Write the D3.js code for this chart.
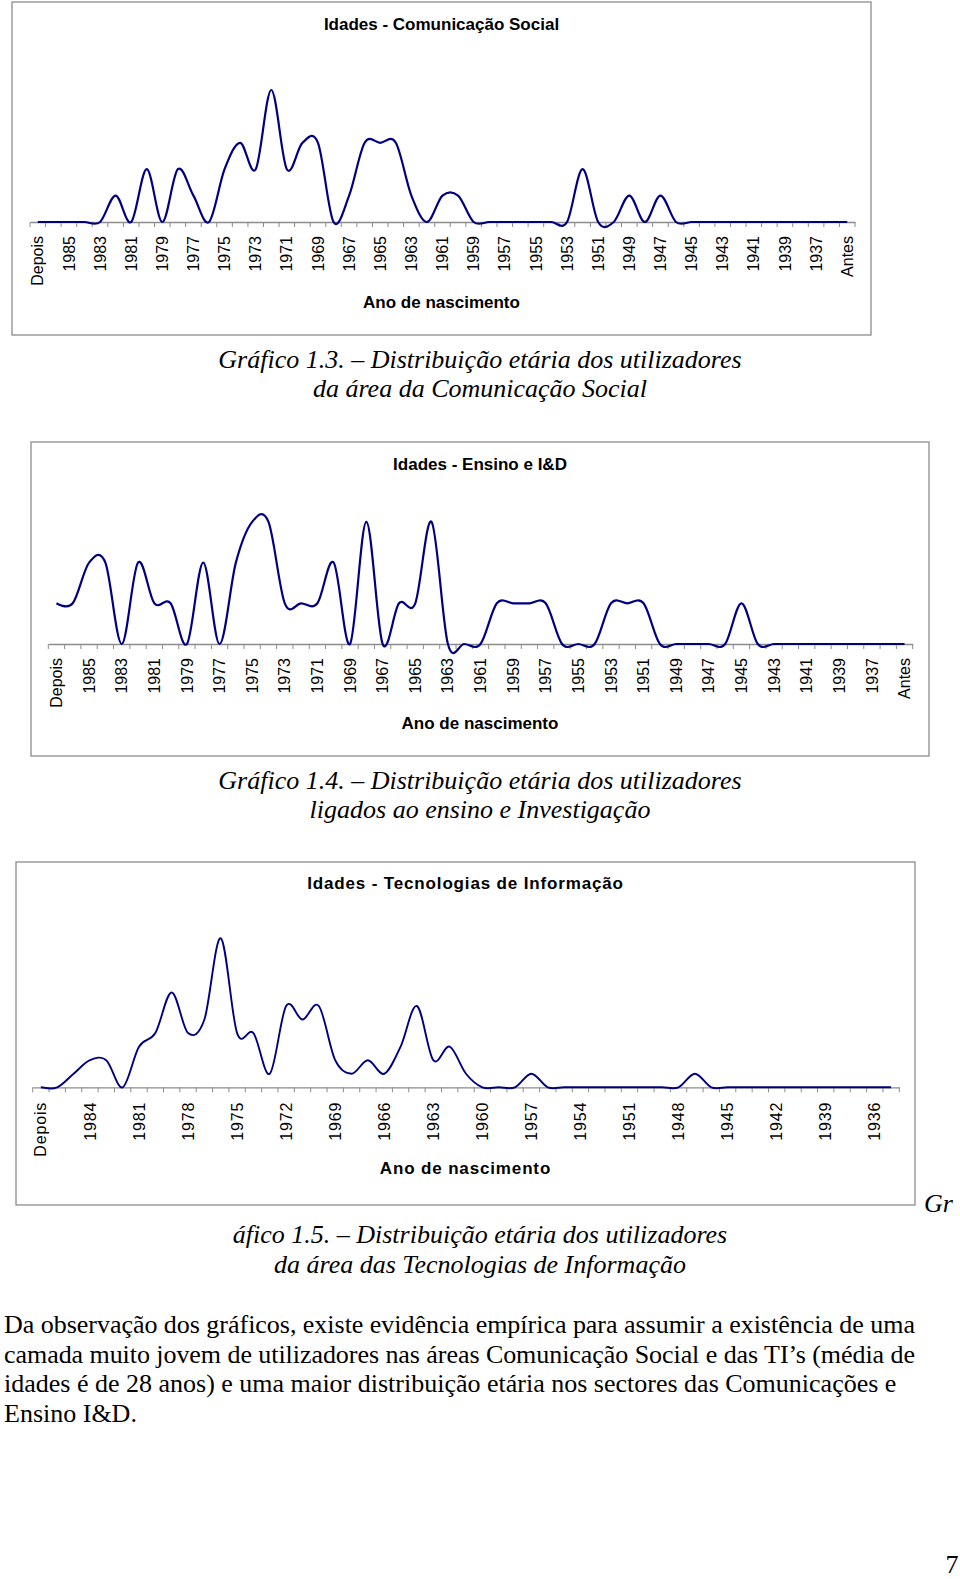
<!DOCTYPE html>
<html>
<head>
<meta charset="utf-8">
<script src="https://cdn.jsdelivr.net/npm/d3@7"></script>
<style>
  body { margin: 0; background: #fff; }
  svg { display: block; }
</style>
</head>
<body>
<div id="page"></div>
<script>
const WIDTH = 960;
const HEIGHT = 1579;

// categorias do eixo (ano de nascimento)
const CATEGORIES = ["Depois",
  "1986", "1985", "1984", "1983", "1982", "1981", "1980", "1979", "1978", "1977",
  "1976", "1975", "1974", "1973", "1972", "1971", "1970", "1969", "1968", "1967",
  "1966", "1965", "1964", "1963", "1962", "1961", "1960", "1959", "1958", "1957",
  "1956", "1955", "1954", "1953", "1952", "1951", "1950", "1949", "1948", "1947",
  "1946", "1945", "1944", "1943", "1942", "1941", "1940", "1939", "1938", "1937",
  "1936", "Antes"];

// rotulos visiveis
const LABELS_2 = ["Depois", "1985", "1983", "1981", "1979", "1977", "1975", "1973", "1971",
  "1969", "1967", "1965", "1963", "1961", "1959", "1957", "1955", "1953", "1951", "1949",
  "1947", "1945", "1943", "1941", "1939", "1937", "Antes"];
const LABELS_3 = ["Depois", "1984", "1981", "1978", "1975", "1972", "1969", "1966", "1963",
  "1960", "1957", "1954", "1951", "1948", "1945", "1942", "1939", "1936"];

// numero de utilizadores por ano
const COMUNICACAO = [0,
  0, 0, 0, 0, 1, 0, 2, 0, 2, 1,
  0, 2, 3, 2, 5, 2, 3, 3, 0, 1,
  3, 3, 3, 1, 0, 1, 1, 0, 0, 0,
  0, 0, 0, 0, 2, 0, 0, 1, 0, 1,
  0, 0, 0, 0, 0, 0, 0, 0, 0, 0,
  0, 0];
const ENSINO = [1,
  1, 2, 2, 0, 2, 1, 1, 0, 2, 0,
  2, 3, 3, 1, 1, 1, 2, 0, 3, 0,
  1, 1, 3, 0, 0, 0, 1, 1, 1, 1,
  0, 0, 0, 1, 1, 1, 0, 0, 0, 0,
  0, 1, 0, 0, 0, 0, 0, 0, 0, 0,
  0, 0];
const TECNOLOGIAS = [0,
  0, 1, 2, 2, 0, 3, 4, 7, 4, 5,
  11, 4, 4, 1, 6, 5, 6, 2, 1, 2,
  1, 3, 6, 2, 3, 1, 0, 0, 0, 1,
  0, 0, 0, 0, 0, 0, 0, 0, 0, 1,
  0, 0, 0, 0, 0, 0, 0, 0, 0, 0,
  0, 0];

const SANS = "'Liberation Sans', Arial, sans-serif";
const SERIF = "'Liberation Serif', 'Times New Roman', serif";

const SVG = d3.select("#page").append("svg")
  .attr("width", WIDTH)
  .attr("height", HEIGHT);

function draw_chart(cfg) {
  const g = SVG.append("g");

  g.append("rect")
    .attr("x", cfg.frame[0]).attr("y", cfg.frame[1])
    .attr("width", cfg.frame[2] - cfg.frame[0])
    .attr("height", cfg.frame[3] - cfg.frame[1])
    .attr("fill", "none")
    .attr("stroke", "#8c8c8c")
    .attr("stroke-width", 1.3);

  const x = d3.scaleBand().domain(CATEGORIES).range([cfg.x0, cfg.x1]).padding(0);
  const y = d3.scaleLinear().domain([0, cfg.yMax]).range([cfg.base, cfg.base - cfg.yMax * cfg.unit]);

  // eixo x, rotulos na vertical
  const ax = g.append("g")
    .attr("transform", `translate(0,${cfg.base})`)
    .call(d3.axisBottom(x).tickValues(cfg.labels).tickSize(0).tickSizeOuter(0));
  ax.select(".domain").attr("stroke", "#8c8c8c").attr("stroke-width", 1.3);
  ax.selectAll(".tick text")
    .attr("transform", "rotate(-90)")
    .attr("text-anchor", "end")
    .attr("x", -cfg.labelGap)
    .attr("y", 0)
    .attr("dy", "0.35em")
    .attr("font-family", SANS)
    .attr("font-size", 16)
    .attr("letter-spacing", cfg.spacing)
    .attr("fill", "#000");

  // marcas entre categorias
  const edges = CATEGORIES.map(c => x(c)).concat([x.range()[1]]);
  g.selectAll(".tk")
    .data(edges)
    .join("line")
    .attr("x1", d => d).attr("x2", d => d)
    .attr("y1", cfg.base).attr("y2", cfg.base + 5)
    .attr("stroke", "#8c8c8c")
    .attr("stroke-width", 1);

  const line = d3.line()
    .x((d, i) => x(CATEGORIES[i]) + x.bandwidth() / 2)
    .y(d => y(d))
    .curve(d3.curveCardinal.tension(0));

  g.append("path")
    .datum(cfg.values)
    .attr("d", line)
    .attr("fill", "none")
    .attr("stroke", "#000080")
    .attr("stroke-width", cfg.lineWidth)
    .attr("stroke-linejoin", "round");

  const cx = (cfg.frame[0] + cfg.frame[2]) / 2;
  g.append("text")
    .attr("x", cx).attr("y", cfg.titleY)
    .attr("text-anchor", "middle")
    .attr("font-family", SANS).attr("font-weight", "bold").attr("font-size", 17)
    .attr("letter-spacing", cfg.spacing)
    .text(cfg.title);
  g.append("text")
    .attr("x", cx).attr("y", cfg.axisTitleY)
    .attr("text-anchor", "middle")
    .attr("font-family", SANS).attr("font-weight", "bold").attr("font-size", 17)
    .attr("letter-spacing", cfg.spacing)
    .text("Ano de nascimento");
}

draw_chart({
  title: "Idades - Comunicação Social", values: COMUNICACAO, labels: LABELS_2,
  frame: [12, 2, 871, 335], x0: 30, x1: 855, base: 222, unit: 26.4, yMax: 6,
  titleY: 30, axisTitleY: 308, labelGap: 14, spacing: 0, lineWidth: 2.2
});
draw_chart({
  title: "Idades - Ensino e I&D", values: ENSINO, labels: LABELS_2,
  frame: [31, 442, 929, 756], x0: 48.3, x1: 912.7, base: 644, unit: 40.7, yMax: 4,
  titleY: 469.5, axisTitleY: 728.5, labelGap: 14, spacing: 0, lineWidth: 2.2
});
draw_chart({
  title: "Idades - Tecnologias de Informação", values: TECNOLOGIAS, labels: LABELS_3,
  frame: [16, 862, 915, 1205], x0: 32.7, x1: 899.3, base: 1087.3, unit: 13.55, yMax: 12,
  titleY: 889, axisTitleY: 1174, labelGap: 14.5, spacing: 0.85, lineWidth: 1.9
});

// legendas dos graficos
function caption(txt, xpos, ypos, anchor) {
  SVG.append("text")
    .attr("x", xpos).attr("y", ypos)
    .attr("text-anchor", anchor || "middle")
    .attr("font-family", SERIF).attr("font-style", "italic").attr("font-size", 26)
    .text(txt);
}
caption("Gráfico 1.3. – Distribuição etária dos utilizadores", 480, 367.5);
caption("da área da Comunicação Social", 480, 397);
caption("Gráfico 1.4. – Distribuição etária dos utilizadores", 480, 789);
caption("ligados ao ensino e Investigação", 480, 818);
caption("Gr", 924, 1212, "start");
caption("áfico 1.5. – Distribuição etária dos utilizadores", 480, 1243);
caption("da área das Tecnologias de Informação", 480, 1273);

// texto corrido
const BODY = [
  "Da observação dos gráficos, existe evidência empírica para assumir a existência de uma",
  "camada muito jovem de utilizadores nas áreas Comunicação Social e das TI’s (média de",
  "idades é de 28 anos) e uma maior distribuição etária nos sectores das Comunicações e",
  "Ensino I&D."
];
const body = SVG.append("g");
body.selectAll("text")
  .data(BODY)
  .join("text")
  .attr("x", 4)
  .attr("y", (d, i) => 1333 + i * 29.7)
  .attr("font-family", SERIF).attr("font-size", 26)
  .each(function(d, i) {
    if (i < 2) d3.select(this).attr("textLength", 911).attr("lengthAdjust", "spacing");
  })
  .text(d => d);

SVG.append("text")
  .attr("x", 952).attr("y", 1573)
  .attr("text-anchor", "middle")
  .attr("font-family", SERIF).attr("font-size", 26)
  .text("7");
</script>
</body>
</html>
